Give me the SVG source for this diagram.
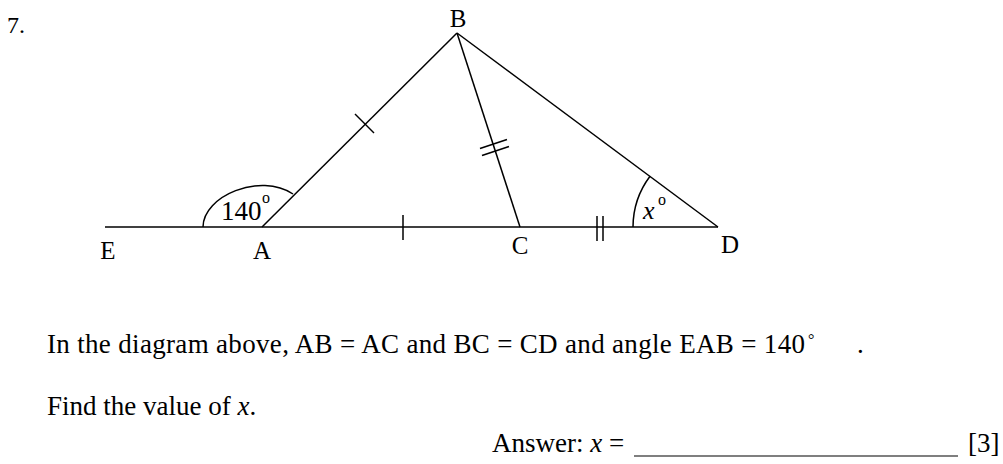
<svg xmlns="http://www.w3.org/2000/svg" width="1003" height="464" viewBox="0 0 1003 464">
<style>
.ln{stroke:#000;stroke-width:1.5;fill:none}
.t{font-family:"Liberation Serif","Times New Roman",serif;fill:#000}
.lbl{font-size:25px;text-anchor:middle}
.body{font-size:27px}
.it{font-style:italic}
</style>
<rect width="1003" height="464" fill="#fff"/>
<text class="t" x="7" y="33" font-size="24">7.</text>
<g id="connectors">
<line class="ln" x1="105" y1="227" x2="262" y2="227" stroke-width="2.2"/>
<line class="ln" x1="262" y1="227" x2="718" y2="227"/>
<line class="ln" x1="262" y1="227" x2="457" y2="33"/>
<line class="ln" x1="457" y1="33" x2="520" y2="227"/>
<line class="ln" x1="457" y1="33" x2="718" y2="227"/>
<line class="ln" x1="355" y1="114" x2="374" y2="133"/>
<line class="ln" x1="403" y1="215" x2="403" y2="240"/>
<line class="ln" x1="597" y1="216" x2="597" y2="241"/>
<line class="ln" x1="603" y1="216" x2="603" y2="241"/>
<line class="ln" x1="480" y1="148.5" x2="507" y2="139.5"/>
<line class="ln" x1="482" y1="155.5" x2="509" y2="146.5"/>
<path class="ln" d="M203 227 C203 196 260 172 293 194"/>
<path class="ln" d="M633 227 A85 85 0 0 1 650 176.3"/>
</g>
<g id="node-B"><text class="t lbl" x="458" y="27">B</text></g>
<g id="node-E"><text class="t lbl" x="108" y="259">E</text></g>
<g id="node-A"><text class="t lbl" x="262" y="259">A</text></g>
<g id="node-C"><text class="t lbl" x="520" y="254">C</text></g>
<g id="node-D"><text class="t lbl" x="730" y="253">D</text></g>
<g id="angle-EAB">
<text class="t" x="221" y="220" font-size="27">140</text>
<text class="t" x="262" y="203" font-size="16">o</text>
</g>
<g id="angle-x">
<text class="t it" x="643" y="219" font-size="26">x</text>
<text class="t" x="658" y="205" font-size="16">o</text>
</g>
<g id="question">
<text class="t body" x="47" y="353" textLength="758" lengthAdjust="spacing">In the diagram above, AB = AC and BC = CD and angle EAB = 140</text>
<text class="t" x="808" y="345" font-size="16">°</text>
<text class="t body" x="857" y="353">.</text>
<text class="t body" x="47" y="415">Find the value of <tspan class="it">x</tspan>.</text>
<text class="t body" x="492" y="452">Answer: <tspan class="it">x</tspan> =</text>
<line x1="634" y1="456" x2="958" y2="456" stroke="#000" stroke-width="1.2"/>
<text class="t body" x="968" y="452">[3]</text>
</g>
</svg>
